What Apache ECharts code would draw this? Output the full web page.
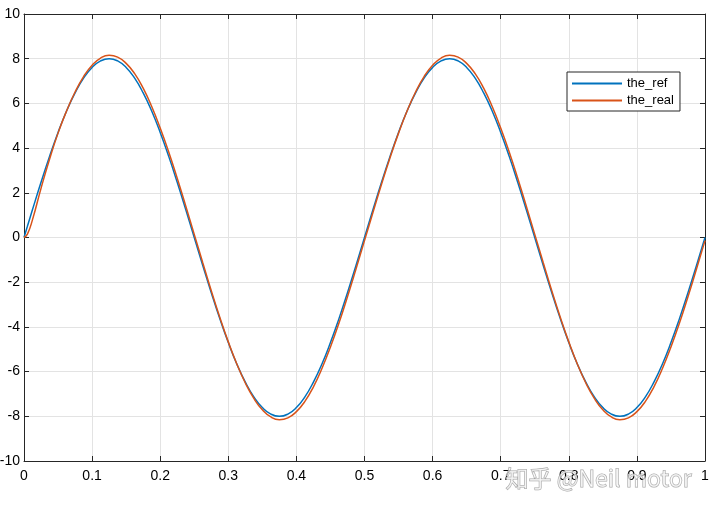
<!DOCTYPE html>
<html>
<head>
<meta charset="utf-8">
<script src="https://cdn.jsdelivr.net/npm/echarts@6/dist/echarts.min.js"></script>
<style>
  html, body { margin: 0; padding: 0; background: #fff; }
  #main { width: 720px; height: 509px; }
</style>
</head>
<body>
<div id="main"></div>
<script>
  // time samples (s), 0.0125 step plus one early point for the start-up transient
  var times = [0, 0.005, 0.0125, 0.025, 0.0375, 0.05, 0.0625, 0.075, 0.0875, 0.1, 0.1125, 0.125,
    0.1375, 0.15, 0.1625, 0.175, 0.1875, 0.2, 0.2125, 0.225, 0.2375, 0.25,
    0.2625, 0.275, 0.2875, 0.3, 0.3125, 0.325, 0.3375, 0.35, 0.3625, 0.375,
    0.3875, 0.4, 0.4125, 0.425, 0.4375, 0.45, 0.4625, 0.475, 0.4875, 0.5,
    0.5125, 0.525, 0.5375, 0.55, 0.5625, 0.575, 0.5875, 0.6, 0.6125, 0.625,
    0.6375, 0.65, 0.6625, 0.675, 0.6875, 0.7, 0.7125, 0.725, 0.7375, 0.75,
    0.7625, 0.775, 0.7875, 0.8, 0.8125, 0.825, 0.8375, 0.85, 0.8625, 0.875,
    0.8875, 0.9, 0.9125, 0.925, 0.9375, 0.95, 0.9625, 0.975, 0.9875, 1.0]

  var theRef = [0, 0.50, 1.25, 2.47, 3.63, 4.70, 5.66, 6.47, 7.13, 7.61, 7.90, 8.00,
    7.90, 7.61, 7.13, 6.47, 5.66, 4.70, 3.63, 2.47, 1.25, 0,
    -1.25, -2.47, -3.63, -4.70, -5.66, -6.47, -7.13, -7.61, -7.90, -8.00,
    -7.90, -7.61, -7.13, -6.47, -5.66, -4.70, -3.63, -2.47, -1.25, 0,
    1.25, 2.47, 3.63, 4.70, 5.66, 6.47, 7.13, 7.61, 7.90, 8.00,
    7.90, 7.61, 7.13, 6.47, 5.66, 4.70, 3.63, 2.47, 1.25, 0,
    -1.25, -2.47, -3.63, -4.70, -5.66, -6.47, -7.13, -7.61, -7.90, -8.00,
    -7.90, -7.61, -7.13, -6.47, -5.66, -4.70, -3.63, -2.47, -1.25, 0]

  var theReal = [0, 0.15, 0.80, 2.20, 3.50, 4.67, 5.66, 6.51, 7.20, 7.71, 8.03, 8.15,
    8.07, 7.79, 7.33, 6.68, 5.86, 4.90, 3.83, 2.65, 1.41, 0.14,
    -1.13, -2.38, -3.57, -4.67, -5.66, -6.51, -7.20, -7.71, -8.03, -8.15,
    -8.07, -7.79, -7.33, -6.68, -5.86, -4.90, -3.83, -2.65, -1.41, -0.14,
    1.13, 2.38, 3.57, 4.67, 5.66, 6.51, 7.20, 7.71, 8.03, 8.15,
    8.07, 7.79, 7.33, 6.68, 5.86, 4.90, 3.83, 2.65, 1.41, 0.14,
    -1.13, -2.38, -3.57, -4.67, -5.66, -6.51, -7.20, -7.71, -8.03, -8.15,
    -8.07, -7.79, -7.33, -6.68, -5.86, -4.90, -3.83, -2.65, -1.41, -0.14]

  var font = 'Liberation Sans, Arial, sans-serif'
  var axisColor = '#262626'

  function pairs(ys) {
    return times.map(function (t, i) { return [t, ys[i]] })
  }

  var chart = echarts.init(document.getElementById('main'))
  chart.setOption({
    animation: false,
    backgroundColor: '#fff',
    grid: { left: 24, right: 15, top: 14, bottom: 48, outerBoundsMode: 'none', containLabel: false },
    legend: {
      orient: 'vertical',
      left: 567,
      top: 72,
      padding: [5, 6, 4, 5],
      itemGap: 4,
      itemWidth: 50,
      itemHeight: 2,
      icon: 'rect',
      backgroundColor: '#fff',
      borderColor: axisColor,
      borderWidth: 1,
      borderRadius: 0,
      textStyle: { fontFamily: font, fontSize: 13, color: '#000' },
      data: ['the_ref', 'the_real']
    },
    xAxis: [{
      type: 'value', min: 0, max: 1, interval: 0.1,
      axisLine: { onZero: false, lineStyle: { color: axisColor, width: 1 } },
      axisTick: { inside: true, length: 5, lineStyle: { color: axisColor } },
      axisLabel: { fontFamily: font, fontSize: 14, color: '#000', margin: 8 },
      splitLine: { show: true, lineStyle: { color: '#e3e3e3', width: 1 } }
    }, {
      type: 'value', min: 0, max: 1, interval: 0.1, position: 'top',
      axisLine: { show: true, onZero: false, lineStyle: { color: axisColor, width: 1 } },
      axisTick: { show: true, inside: true, length: 5, lineStyle: { color: axisColor } },
      axisLabel: { show: false },
      splitLine: { show: false }
    }],
    yAxis: [{
      type: 'value', min: -10, max: 10, interval: 2,
      axisLine: { show: true, onZero: false, lineStyle: { color: axisColor, width: 1 } },
      axisTick: { show: true, inside: true, length: 5, lineStyle: { color: axisColor } },
      axisLabel: { fontFamily: font, fontSize: 14, color: '#000', margin: 4 },
      splitLine: { show: true, lineStyle: { color: '#e3e3e3', width: 1 } }
    }, {
      type: 'value', min: -10, max: 10, interval: 2, position: 'right',
      axisLine: { show: true, onZero: false, lineStyle: { color: axisColor, width: 1 } },
      axisTick: { show: true, inside: true, length: 5, lineStyle: { color: axisColor } },
      axisLabel: { show: false },
      splitLine: { show: false }
    }],
    series: [{
      name: 'the_ref',
      type: 'line',
      smooth: true,
      showSymbol: false,
      color: '#0072BD',
      lineStyle: { width: 1.5 },
      data: pairs(theRef)
    }, {
      name: 'the_real',
      type: 'line',
      smooth: true,
      showSymbol: false,
      color: '#D95319',
      lineStyle: { width: 1.5 },
      data: pairs(theReal)
    }],
    graphic: [{
      type: 'text',
      left: 505,
      top: 466,
      z: 100,
      style: {
        text: '知乎 @Neil motor',
        font: '23px "Noto Sans CJK SC", sans-serif',
        fill: 'rgba(255,255,255,0.6)',
        stroke: 'rgba(140,140,140,0.8)',
        lineWidth: 1
      }
    }]
  })
</script>
</body>
</html>
